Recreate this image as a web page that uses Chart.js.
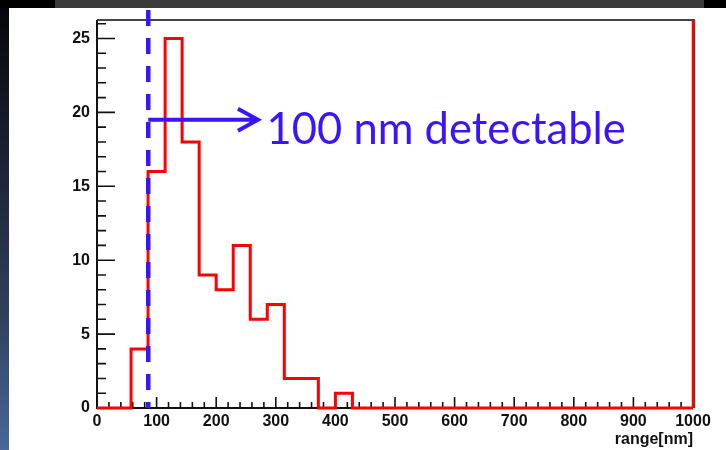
<!DOCTYPE html>
<html>
<head>
<meta charset="utf-8">
<script src="https://cdn.jsdelivr.net/npm/chart.js@4/dist/chart.umd.min.js"></script>
<style>
  html, body { margin: 0; padding: 0; background: #fff; }
  canvas { display: block; }
</style>
</head>
<body>
<canvas id="ctx-range" width="726" height="450"></canvas>
<script>
// histogram binning (ROOT TH1: 35 bins over 0..1000 nm)
const nBins = 35;
const xMin = 0;
const xMax = 1000;
const counts = [0, 0, 4, 16, 25, 18, 9, 8, 11, 6, 7, 2, 2, 0, 1,
                0, 0, 0, 0, 0, 0, 0, 0, 0, 0, 0, 0, 0, 0, 0, 0, 0, 0, 0, 0];
const yMax = 26.25;

const xTicks = [0, 100, 200, 300, 400, 500, 600, 700, 800, 900, 1000];
const yTicks = [0, 5, 10, 15, 20, 25];
const xMinorStep = 20;
const yMinorStep = 1;

// annotation: cut line + arrow + text
const cutX = 86;
const arrowY = 19.5;
const arrowEndX = 270;
const noteText = '100 nm detectable';
const noteX = 284.5;
const noteY = 17.85;

const blue = '#3a14ff';

// outline points at bin low edges, last one closes at xMax
let points = [];
const binW = (xMax - xMin) / nBins;
for (let i = 0; i < nBins; i++) {
    points.push({ x: xMin + i * binW, y: counts[i] });
}
points.push({ x: xMax, y: 0 });

const rootStyle = {
    id: 'rootStyle',
    beforeDraw(chart) {
        const c = chart.ctx;
        const W = chart.width, H = chart.height;
        c.save();
        c.fillStyle = '#ffffff';
        c.fillRect(0, 0, W, H);
        // slide frame strips
        const g = c.createLinearGradient(0, 0, 0, H);
        g.addColorStop(0, '#050508');
        g.addColorStop(0.35, '#1b2233');
        g.addColorStop(0.7, '#30405c');
        g.addColorStop(1, '#4a679a');
        c.fillStyle = g;
        c.fillRect(0, 0, 9, H);
        c.fillStyle = '#000000';
        c.fillRect(0, 0, W, 8);
        c.fillStyle = '#3b3b3b';
        c.fillRect(55, 0, 649, 8);
        c.restore();
    },
    beforeDatasetsDraw(chart) {
        const c = chart.ctx;
        const a = chart.chartArea;
        const xs = chart.scales.x, ys = chart.scales.y;
        c.save();
        // frame
        c.strokeStyle = '#444';
        c.lineWidth = 2;
        c.beginPath();
        c.moveTo(a.left, a.top);
        c.lineTo(a.right + 2, a.top);
        c.stroke();
        c.lineWidth = 1.5;
        c.beginPath();
        c.moveTo(a.right + 1.5, a.top);
        c.lineTo(a.right + 1.5, a.bottom);
        c.stroke();

        c.strokeStyle = '#111';
        c.lineWidth = 2;
        c.beginPath();
        c.moveTo(a.left, a.top);
        c.lineTo(a.left, a.bottom);
        c.lineTo(a.right, a.bottom);
        c.stroke();

        // x ticks, pointing up into the frame
        c.lineWidth = 1.6;
        c.beginPath();
        for (let v = xMin; v <= xMax + 0.001; v += xMinorStep) {
            const px = xs.getPixelForValue(v);
            const len = xTicks.includes(Math.round(v)) ? 11 : 6;
            c.moveTo(px, a.bottom);
            c.lineTo(px, a.bottom - len);
        }
        // y ticks, pointing right
        for (let v = 0; v <= yMax; v += yMinorStep) {
            const py = ys.getPixelForValue(v);
            const len = yTicks.includes(v) ? 18 : 9;
            c.moveTo(a.left, py);
            c.lineTo(a.left + len, py);
        }
        c.stroke();
        c.restore();
    },
    afterDatasetsDraw(chart) {
        const c = chart.ctx;
        const a = chart.chartArea;
        const xs = chart.scales.x, ys = chart.scales.y;
        c.save();
        // red right edge of the frame
        c.strokeStyle = '#ff0000';
        c.lineWidth = 2.5;
        c.beginPath();
        c.moveTo(a.right, a.top);
        c.lineTo(a.right, a.bottom);
        c.stroke();

        // dashed cut line
        const cx = xs.getPixelForValue(cutX);
        c.strokeStyle = blue;
        c.lineWidth = 4.5;
        c.setLineDash([16, 12]);
        c.beginPath();
        c.moveTo(cx, 10);
        c.lineTo(cx, a.bottom);
        c.stroke();
        c.setLineDash([]);

        // arrow
        const ay = ys.getPixelForValue(arrowY);
        const ex = xs.getPixelForValue(arrowEndX);
        c.lineWidth = 4;
        c.lineJoin = 'miter';
        c.beginPath();
        c.moveTo(cx, ay);
        c.lineTo(ex, ay);
        c.moveTo(ex - 20, ay - 11);
        c.lineTo(ex, ay);
        c.lineTo(ex - 20, ay + 11);
        c.stroke();

        // label, sized to its width in the slide
        c.fillStyle = blue;
        c.font = '40px Lato';
        const w = c.measureText(noteText).width;
        const size = 40 * 359 / w;
        c.font = size.toFixed(1) + 'px Lato';
        c.textBaseline = 'alphabetic';
        c.textAlign = 'left';
        c.fillText(noteText, xs.getPixelForValue(noteX), ys.getPixelForValue(noteY));
        c.restore();
    }
};

const tickFont = { family: 'Liberation Sans', size: 16, weight: 'bold' };

const chart = new Chart(document.getElementById('ctx-range'), {
    type: 'line',
    data: {
        datasets: [{
            data: points,
            stepped: 'before',
            borderColor: '#ff0000',
            borderWidth: 3,
            pointRadius: 0,
            fill: false,
            clip: false
        }]
    },
    options: {
        responsive: false,
        animation: false,
        devicePixelRatio: 1,
        layout: { padding: { top: 20, right: 33, left: 0, bottom: 0 } },
        plugins: {
            legend: { display: false },
            tooltip: { enabled: false }
        },
        scales: {
            x: {
                type: 'linear',
                min: xMin,
                max: xMax,
                afterFit: (s) => { s.height = 42; },
                afterBuildTicks: (s) => { s.ticks = xTicks.map(v => ({ value: v })); },
                grid: { display: false, tickLength: 0 },
                border: { display: false },
                ticks: {
                    font: tickFont, color: '#111', padding: 4, maxRotation: 0, autoSkip: false,
                    callback: (v) => String(v)
                },
                title: {
                    display: true,
                    text: 'range[nm]',
                    align: 'end',
                    color: '#111',
                    font: tickFont,
                    padding: { top: 0, bottom: 1 }
                }
            },
            y: {
                type: 'linear',
                min: 0,
                max: yMax,
                afterFit: (s) => { s.width = 97; },
                afterBuildTicks: (s) => { s.ticks = yTicks.map(v => ({ value: v })); },
                grid: { display: false, tickLength: 0 },
                border: { display: false },
                ticks: { font: tickFont, color: '#111', padding: 7, callback: (v) => String(v) }
            }
        }
    },
    plugins: [rootStyle]
});
</script>
</body>
</html>
